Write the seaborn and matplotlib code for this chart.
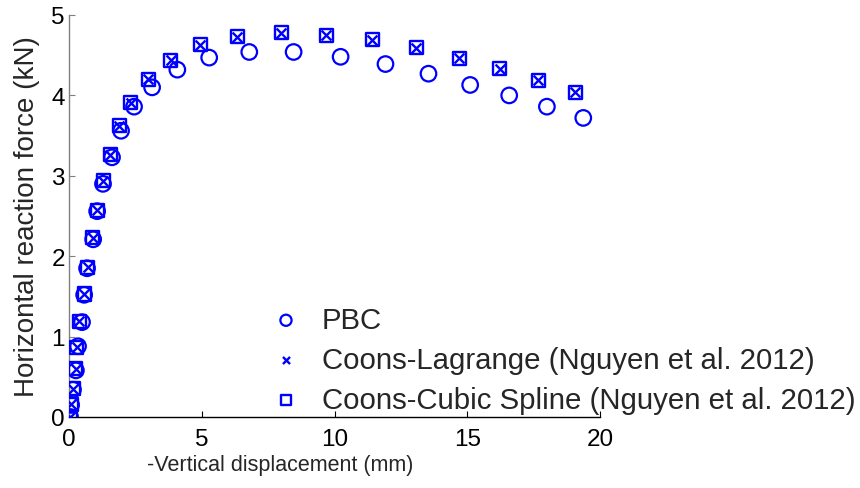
import numpy as np
import pandas as pd
import matplotlib
matplotlib.use("Agg")
import matplotlib.pyplot as plt
import seaborn as sns

# PBC result
pbc_x = [0.04, 0.08, 0.15, 0.26, 0.34, 0.49, 0.57, 0.68, 0.91, 1.06, 1.28, 1.62, 1.96,
         2.45, 3.13, 4.08, 5.28, 6.79, 8.46, 10.23, 11.92, 13.54, 15.11, 16.58, 18.0, 19.37]
pbc_y = [0.0, 0.15, 0.34, 0.58, 0.88, 1.18, 1.52, 1.85, 2.21, 2.56, 2.90, 3.23, 3.56,
         3.86, 4.10, 4.32, 4.47, 4.54, 4.54, 4.48, 4.39, 4.27, 4.13, 4.00, 3.86, 3.72]

# Coons-Lagrange (Nguyen et al. 2012)
lag_x = [0.04, 0.08, 0.16, 0.25, 0.30, 0.39, 0.58, 0.71, 0.89, 1.06, 1.29, 1.56, 1.89,
         2.33, 2.99, 3.84, 4.94, 6.33, 7.99, 9.69, 11.42, 13.08, 14.69, 16.22, 17.67, 19.06]
lag_y = [0.0, 0.16, 0.35, 0.60, 0.87, 1.19, 1.53, 1.86, 2.23, 2.57, 2.94, 3.26, 3.62,
         3.91, 4.20, 4.44, 4.63, 4.73, 4.78, 4.75, 4.69, 4.59, 4.46, 4.33, 4.19, 4.04]

# Coons-Cubic Spline (Nguyen et al. 2012)
spl_x = [0.04, 0.08, 0.16, 0.25, 0.30, 0.39, 0.58, 0.71, 0.89, 1.06, 1.29, 1.56, 1.89,
         2.33, 2.99, 3.84, 4.94, 6.33, 7.99, 9.69, 11.42, 13.08, 14.69, 16.22, 17.67, 19.06]
spl_y = [0.0, 0.16, 0.35, 0.60, 0.87, 1.19, 1.53, 1.86, 2.23, 2.57, 2.94, 3.26, 3.62,
         3.91, 4.20, 4.44, 4.63, 4.73, 4.78, 4.75, 4.69, 4.59, 4.46, 4.33, 4.19, 4.04]

x_ticks = [0, 5, 10, 15, 20]
y_ticks = [0, 1, 2, 3, 4, 5]

sns.set_style("white")
plt.rcParams['font.family'] = ['Liberation Sans', 'DejaVu Sans']

blue = '#0000ff'
fig = plt.figure(figsize=(8.6, 4.89), dpi=100)
ax = fig.add_axes([69 / 860, 71 / 489, 531 / 860, 402 / 489])

sns.scatterplot(x=pbc_x, y=pbc_y, ax=ax, marker='o', s=125, color=blue,
                facecolors='none', edgecolor=blue, linewidth=1.6, label='PBC', zorder=3)
sns.scatterplot(x=lag_x, y=lag_y, ax=ax, marker='x', s=50, color=blue,
                linewidth=1.7, label='Coons-Lagrange (Nguyen et al. 2012)', zorder=4)
sns.scatterplot(x=spl_x, y=spl_y, ax=ax, marker='s', s=88, color=blue,
                facecolors='none', edgecolor=blue, linewidth=1.7,
                label='Coons-Cubic Spline (Nguyen et al. 2012)', zorder=4)

ax.set_xlim(0, 20)
ax.set_ylim(0, 5)
ax.set_xticks(x_ticks)
ax.set_yticks(y_ticks)
ax.set_xticklabels([str(t) for t in x_ticks])
ax.set_yticklabels([str(t) for t in y_ticks])

for s in ['top', 'right']:
    ax.spines[s].set_visible(False)
ax.spines['left'].set_color('#808080')
ax.spines['bottom'].set_color('black')
ax.spines['left'].set_linewidth(1.0)
ax.spines['bottom'].set_linewidth(1.0)

ax.tick_params(axis='x', direction='in', length=4, width=0.8, color='black',
               labelsize=17.5, pad=8, labelcolor='black')
ax.tick_params(axis='y', direction='in', length=4, width=0.8, color='#808080',
               labelsize=17.5, pad=3, labelcolor='black')
ax.tick_params(left=True, bottom=True)

ax.set_xlabel('-Vertical displacement (mm)', fontsize=15.5)
ax.set_ylabel('Horizontal reaction force (kN)', fontsize=20)
ax.xaxis.label.set_va('center')
ax.yaxis.label.set_va('center')
ax.xaxis.set_label_coords(0.397, -0.117)
ax.yaxis.set_label_coords(-0.079, 0.5)

handles, labels = ax.get_legend_handles_labels()
ax.legend(handles, labels, loc='upper left', bbox_to_anchor=(272 / 860, 1 - 307 / 489),
          bbox_transform=fig.transFigure, frameon=False, fontsize=21.2,
          markerscale=0.72, handlelength=0.95, handletextpad=0.75, labelspacing=0.4,
          borderpad=0, borderaxespad=0)

fig.savefig('out.png', dpi=100)
